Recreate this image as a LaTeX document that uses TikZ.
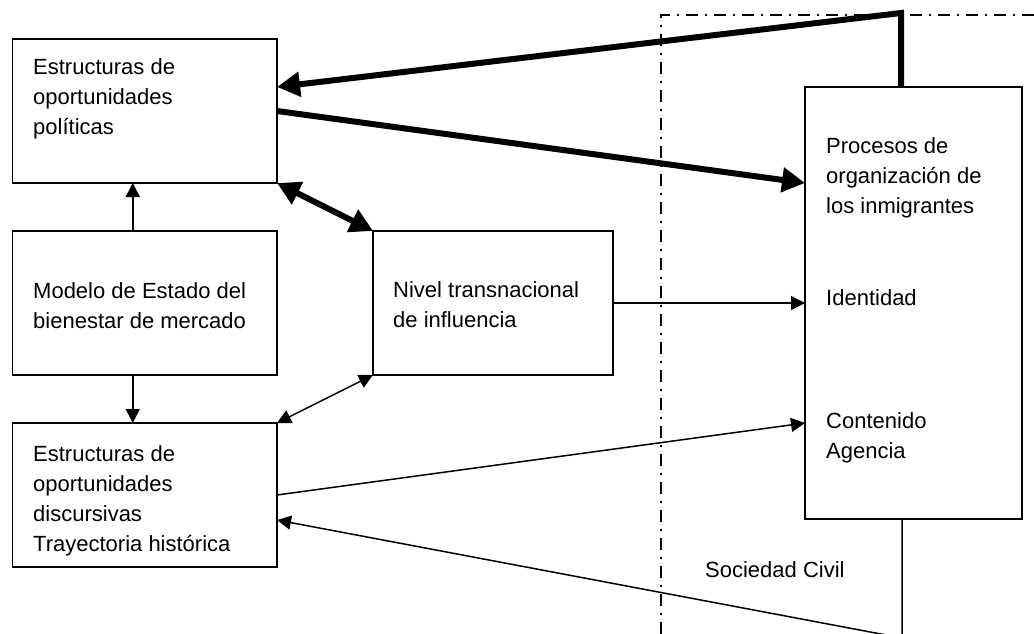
\documentclass[tikz,border=0pt]{standalone}
\usepackage{fontspec}
\setmainfont{Liberation Sans}
\usetikzlibrary{arrows.meta}

\tikzset{
    tin/.tip={Triangle[length=14pt,width=14pt]}, % small filled head
    fat/.tip={Triangle[length=23pt,width=24pt]}  % big filled head
}

\begin{document}
\begin{tikzpicture}[
            x=1pt, y=-1pt,
            box/.style={draw, line width=1.6pt, minimum width=264.5pt, minimum height=144pt, inner sep=0pt, outer sep=0pt}, % plain frame
            txt/.style={anchor=base west, align=left, inner sep=0pt, font=\fontsize{22}{30}\selectfont}, % left aligned text, base = last line
            link/.style={line width=1.5pt, -tin},
            fatlink/.style={line width=6pt, -fat},
            border/.style={line width=2pt, dash pattern=on 12pt off 7pt on 2pt off 7pt} % dash-dot frame
            ]

        \clip (0,0) rectangle (1034,634);

        % Sociedad civil frame
        \coordinate (c0) at (661,634);
        \coordinate (c1) at (661,15);
        \coordinate (c2) at (1034,15);
        \draw[border] (c0) -- (c1) -- (c2);

        % Boxes
        \node[box] (pol) at (144.75,111) {};
        \node[box] (mod) at (144.75,303) {};
        \node[box] (dis) at (144.75,495) {};
        \node[box, minimum width=240pt] (trans) at (493,303) {};
        \node[box, minimum width=217pt, minimum height=432pt] (org) at (913.5,303) {};

        % Texts
        \node[txt] (polT) at ([shift={(20.5,96)}]pol.north west) {Estructuras de\\oportunidades\\políticas};
        \node[txt] (modT) at ([shift={(20.5,97)}]mod.north west) {Modelo de Estado del\\bienestar de mercado};
        \node[txt] (disT) at ([shift={(20.5,128)}]dis.north west) {Estructuras de\\oportunidades\\discursivas\\Trayectoria histórica};
        \node[txt] (transT) at ([shift={(20,96)}]trans.north west) {Nivel transnacional\\de influencia};
        \node[txt] (orgT) at ([shift={(21,126)}]org.north west) {Procesos de\\organización de\\los inmigrantes};
        \node[txt] (idT) at ([shift={(21,2)}]org.west) {Identidad};
        \node[txt] (conT) at ([shift={(21,155)}]org.west) {Contenido\\Agencia};
        \node[txt] (civT) at ([shift={(-100,58)}]org.south west) {Sociedad Civil};

        % Thin connectors
        \draw[link] ([xshift=-12pt]mod.north) -- ([xshift=-12pt]pol.south);
        \draw[link] ([xshift=-12pt]mod.south) -- ([xshift=-12pt]dis.north);
        \draw[link, tin-tin] (dis.north east) -- (trans.south west);
        \draw[link] (trans.east) -- (org.west);
        \draw[link] (dis.east) -- ([yshift=-120pt]org.west);
        \coordinate (foot) at (902,638);
        \draw[link] ([xshift=-11.5pt]org.south) -- (foot) -- ([yshift=-25pt]dis.east);

        % Thick connectors
        \draw[fatlink, fat-fat] (pol.south east) -- (trans.north west);
        \draw[fatlink] (pol.east) -- ([yshift=120pt]org.west);
        \coordinate (bend) at (901,13);
        \draw[fatlink] ([xshift=-12.5pt]org.north) -- (bend) -- ([yshift=24pt]pol.east);

\end{tikzpicture}
\end{document}
